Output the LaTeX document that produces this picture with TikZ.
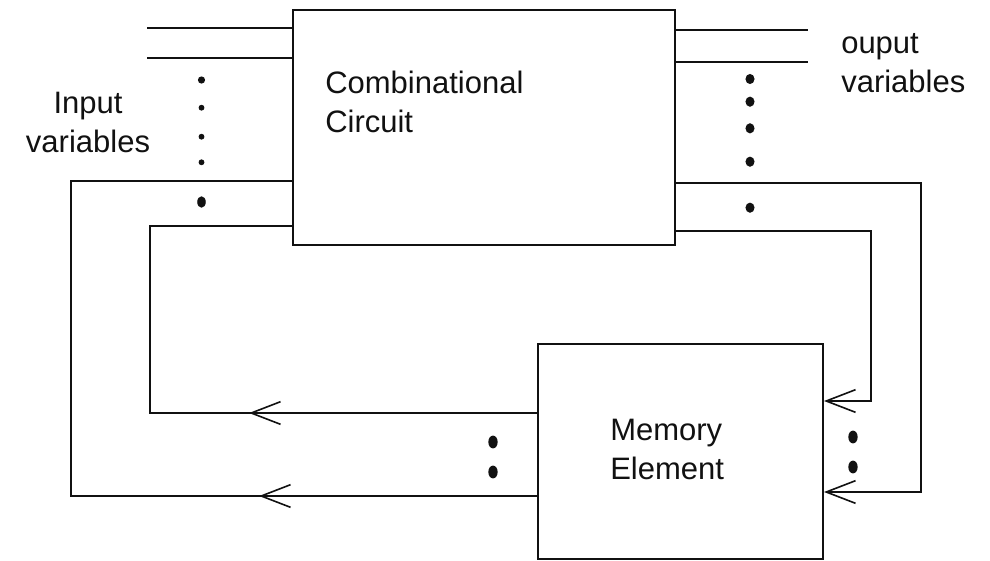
\documentclass[tikz,border=0pt]{standalone}
\usepackage{fontspec}
\setmainfont{Liberation Sans}
\usepackage{xcolor}
\usetikzlibrary{arrows.meta,positioning,calc,decorations.markings}
\definecolor{ink}{HTML}{111111}
\definecolor{paper}{HTML}{FFFFFF}
\tikzset{
  blockbox/.style={draw=ink,fill=paper,line width=1.5pt,inner sep=0pt},
  wire/.style={draw=ink,line width=1.5pt},
  feedarr/.style={wire,-{Straight Barb[length=22pt,width=17pt,line width=1.2pt]}},
  midarr/.style={wire,postaction={decorate},
                 decoration={markings,mark=at position #1 with
                   {\arrow{Straight Barb[length=22pt,width=17pt,line width=1.2pt]}}}},
  labeltext/.style={inner sep=0pt,text=ink,font=\fontsize{23.25}{29.25}\selectfont}
}

\begin{document}
\begin{tikzpicture}[x=0.75pt,y=-0.75pt]
  \useasboundingbox (0,0) rectangle (990,561);

  \node[blockbox,minimum width=286.5pt,minimum height=176.25pt] (cc) at (484,127.5) {};
  \node[blockbox,minimum width=213.75pt,minimum height=161.25pt] (mem) at (680.5,451.5) {};

  \node[labeltext,align=left,anchor=north west] (cctext) at (325,71) {Combinational\\Circuit};
  \node[labeltext,align=left,anchor=north west] (memtext) at (610,419) {Memory\\Element};
  \node[labeltext,align=center,anchor=north] (intext) at (88,92) {Input\\variables};
  \node[labeltext,align=left,anchor=north west] (outtext) at (841,33) {ouput\\variables};

  % input and output buses
  \coordinate (in1) at (147,28);
  \coordinate (in2) at (147,58);
  \coordinate (out1) at (808,30);
  \coordinate (out2) at (808,62);
  \draw[wire] (in1) -- (in1 -| cc.west);
  \draw[wire] (in2) -- (in2 -| cc.west);
  \draw[wire] (out1 -| cc.east) -- (out1);
  \draw[wire] (out2 -| cc.east) -- (out2);

  % feedback loops
  \coordinate (lina) at (150,413);
  \coordinate (linb) at (150,226);
  \coordinate (louta) at (71,496);
  \coordinate (loutb) at (71,181);
  \coordinate (rina) at (871,231);
  \coordinate (rinb) at (871,401);
  \coordinate (routa) at (921,183);
  \coordinate (routb) at (921,492);
  \draw[midarr=216pt] (mem.west |- lina) -- (lina) -- (linb) -- (linb -| cc.west);
  \draw[midarr=208.5pt] (mem.west |- louta) -- (louta) -- (loutb) -- (loutb -| cc.west);
  \draw[feedarr] (cc.east |- rina) -- (rina) -- (rinb) -- (rinb -| mem.east);
  \draw[feedarr] (cc.east |- routa) -- (routa) -- (routb) -- (routb -| mem.east);

  \foreach \yy/\rr in {80/2.7pt,107.7/2.2pt,136.7/2.2pt,162.3/2.2pt}
    \fill[ink] (201.5,\yy) circle [radius=\rr];
  \fill[ink] (201.5,202) ellipse [x radius=3.2pt,y radius=4.3pt];
  \foreach \yy in {79,101.7,128.3,161.7,207.7}
    \fill[ink] (750,\yy) ellipse [x radius=3.4pt,y radius=3.8pt];
  \foreach \yy in {442,472} {
    \fill[ink] (493,\yy) ellipse [x radius=3.5pt,y radius=4.8pt];
    \fill[ink] (853,\yy-5) ellipse [x radius=3.5pt,y radius=4.8pt];
  }
\end{tikzpicture}
\end{document}
